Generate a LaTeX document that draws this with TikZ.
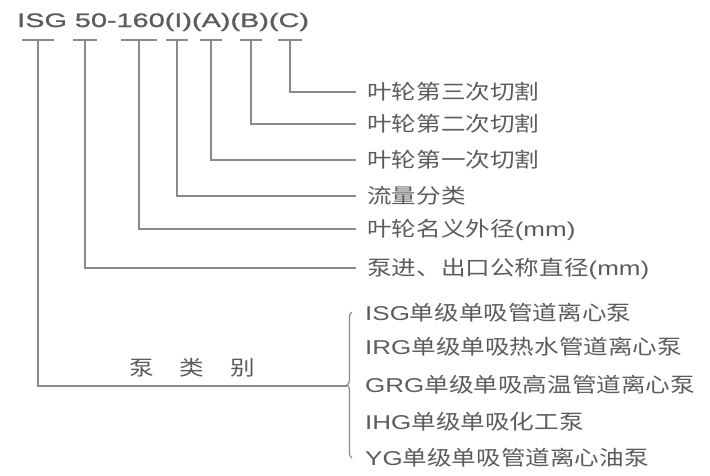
\documentclass[tikz,border=0pt]{standalone}
\usepackage{fontspec}
\usetikzlibrary{decorations.pathreplacing}

\newfontfamily\cjkfont[FakeStretch=1.2]{Noto Sans CJK SC}
\newfontfamily\latfont[FakeStretch=1.3]{Liberation Sans}
\newfontfamily\codefont[FakeStretch=1.48, FakeBold=1.2]{Liberation Sans}
\newcommand{\lattext}[1]{{\latfont\fontsize{20}{22}\selectfont #1}}

\definecolor{ink}{HTML}{5C5C5C}
\definecolor{wire}{HTML}{8A8A86}

\tikzset{
  wire/.style={draw=wire, line width=1.4pt},
  code/.style={anchor=base west, inner sep=0pt, text=ink,
    font=\codefont\fontsize{19.5}{20}\selectfont},
  lbl/.style={anchor=west, inner xsep=11pt, inner ysep=0pt,
    text height=17pt, text depth=1.5pt, text=ink,
    font=\cjkfont\fontsize{20.5}{22}\selectfont},
  item/.style={lbl, inner xsep=0pt},
}

\begin{document}
\begin{tikzpicture}[x=1pt, y=-1pt]
    \useasboundingbox (0,0) rectangle (710,475);

    \node[code] (model) at (17,27) {ISG 50-160(I)(A)(B)(C)};

    % bars under the model code
    \coordinate (bISG) at (38,40);
    \coordinate (b50)  at (85,40);
    \coordinate (b160) at (139,40);
    \coordinate (bI)   at (177,40);
    \coordinate (bA)   at (211,40);
    \coordinate (bB)   at (251,40);
    \coordinate (bC)   at (290,40);

    \draw[wire] ([xshift=-16pt]bISG) -- ([xshift=16pt]bISG);
    \draw[wire] ([xshift=-12pt]b50) -- ([xshift=12pt]b50);
    \draw[wire] ([xshift=-18pt]b160) -- ([xshift=18pt]b160);
    \draw[wire] ([xshift=-11pt]bI) -- ([xshift=11pt]bI);
    \draw[wire] ([xshift=-11pt]bA) -- ([xshift=11pt]bA);
    \draw[wire] ([xshift=-11pt]bB) -- ([xshift=11pt]bB);
    \draw[wire] ([xshift=-12pt]bC) -- ([xshift=12pt]bC);

    \node[lbl] (lC)   at (356,92)  {叶轮第三次切割};
    \node[lbl] (lB)   at (356,124) {叶轮第二次切割};
    \node[lbl] (lA)   at (356,160) {叶轮第一次切割};
    \node[lbl] (lI)   at (356,196) {流量分类};
    \node[lbl] (l160) at (356,229) {叶轮名义外径\lattext{(mm)}};
    \node[lbl] (l50)  at (356,268) {泵进、出口公称直径\lattext{(mm)}};

    \draw[wire] (bC) |- (lC.west);
    \draw[wire] (bB) |- (lB.west);
    \draw[wire, line width=2.4pt] (bB |- lB.west) -- (lB.west);
    \draw[wire] (bA) |- (lA.west);
    \draw[wire] (bI) |- (lI.west);
    \draw[wire] (b160) |- (l160.west);
    \draw[wire] (b50) |- (l50.west);

    % pump types
    \coordinate (tip) at (347,386);
    \draw[wire] (bISG) |- (tip);
    \node[lbl, anchor=center, inner xsep=0pt] (kind) at (192,368)
      {泵\hspace{26pt}类\hspace{26pt}别};
    \draw[wire, line width=1.2pt, decorate, decoration={brace, amplitude=5pt}]
      (352,458) -- (352,312);

    \node[item] (tISG) at (365,313) {\lattext{ISG}单级单吸管道离心泵};
    \node[item] (tIRG) at (365,347) {\lattext{IRG}单级单吸热水管道离心泵};
    \node[item] (tGRG) at (365,385) {\lattext{GRG}单级单吸高温管道离心泵};
    \node[item] (tIHG) at (365,422) {\lattext{IHG}单级单吸化工泵};
    \node[item] (tYG)  at (365,458) {\lattext{YG}单级单吸管道离心油泵};
  \end{tikzpicture}
\end{document}
